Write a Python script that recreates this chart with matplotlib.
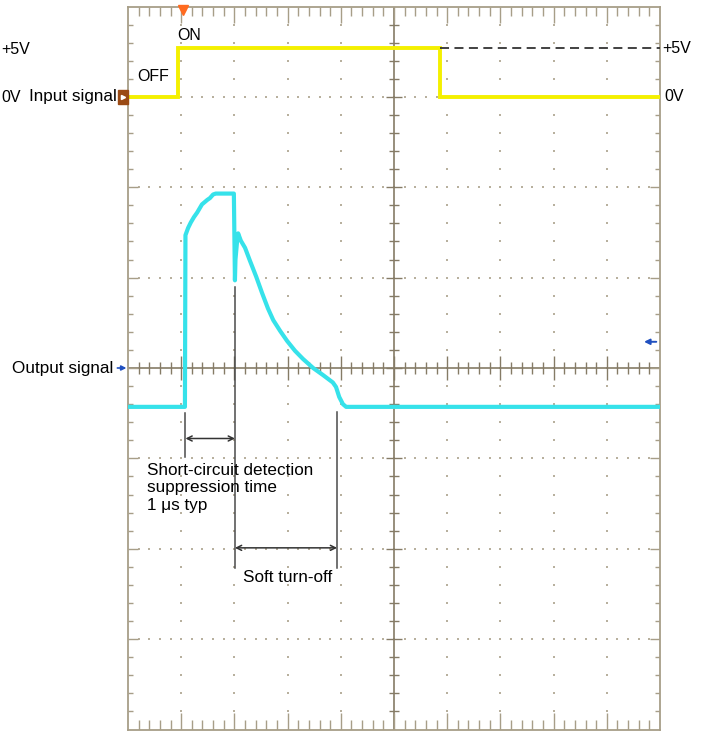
import numpy as np
import matplotlib
matplotlib.use("Agg")
import matplotlib.pyplot as plt
from matplotlib.collections import LineCollection
from matplotlib.patches import Rectangle

# ---------------- data (time in divisions, output in divisions) ----------------
t_input = [0.0, 0.94, 5.86, 10.0]
v_input = [0.0, 5.0, 0.0, 0.0]          # volts

t_output = [0.00, 1.07, 1.08, 1.13, 1.18, 1.24, 1.30, 1.39, 1.49, 1.54, 1.60, 1.65,
            1.99, 2.01, 2.02, 2.05, 2.07, 2.12, 2.20, 2.29, 2.41, 2.52, 2.63, 2.73,
            2.86, 2.99, 3.14, 3.29, 3.48, 3.67, 3.85, 3.91, 3.97, 4.04, 4.10, 10.0]
y_output = [-0.43, -0.43, 1.47, 1.55, 1.61, 1.67, 1.72, 1.81, 1.86, 1.88, 1.92, 1.93,
            1.93, 0.97, 1.20, 1.40, 1.49, 1.41, 1.33, 1.19, 1.01, 0.83, 0.66, 0.53,
            0.41, 0.30, 0.19, 0.10, 0.00, -0.08, -0.16, -0.21, -0.32, -0.40, -0.43,
            -0.43]

t_trigger = 1.03
t_det_start, t_det_end, t_soft_end = 1.08, 2.01, 3.93

# channel settings
IN_OFFSET = 3.0      # div (0 V level of input)
IN_GAIN = 0.108      # div per volt
N_XDIV, N_YDIV = 10, 8

# ---------------- styles ----------------
FRAME = "#a79e88"
CROSS = "#857b66"
DOT = "#b8b09e"
YEL = "#f4f000"
CYAN = "#36e2ea"
PX_X = 10 / 532.0
PX_Y = 8 / 724.0

fig = plt.figure(figsize=(7.01, 7.31), dpi=100)
fig.patch.set_facecolor("white")
ax = fig.add_axes([128 / 701, 1.5 / 731, 532 / 701, 723 / 731])
ax.set_xlim(0, N_XDIV)
ax.set_ylim(-N_YDIV / 2, N_YDIV / 2)
ax.set_xticks([])
ax.set_yticks([])
for s in ax.spines.values():
    s.set_color(FRAME)
    s.set_linewidth(1.3)

# graticule dots
minor_x = np.arange(0.2, N_XDIV, 0.2)
minor_y = np.arange(-N_YDIV / 2 + 0.2, N_YDIV / 2, 0.2)
for yr in [-3, -2, -1, 1, 2, 3]:
    ax.scatter(minor_x, np.full_like(minor_x, yr), s=1.6, color=DOT, marker="s",
               linewidths=0, zorder=1)
for xc in [1, 2, 3, 4, 6, 7, 8, 9]:
    ax.scatter(np.full_like(minor_y, xc), minor_y, s=1.6, color=DOT, marker="s",
               linewidths=0, zorder=1)

# center cross
ax.axvline(5, color=CROSS, lw=1.2, zorder=2)
ax.axhline(0, color=CROSS, lw=1.2, zorder=2)

segs = []
segs_cross = []
for xv in np.arange(0.2, N_XDIV, 0.2):
    major = abs(xv - round(xv)) < 1e-6
    lt = (17 if major else 10) * PX_Y
    segs.append([(xv, 4), (xv, 4 - lt)])
    segs.append([(xv, -4), (xv, -4 + lt)])
    lc = (12 if major else 6) * PX_Y
    segs_cross.append([(xv, -lc), (xv, lc)])
for yv in np.arange(-3.8, 4, 0.2):
    major = abs(yv - round(yv)) < 1e-6
    lt = (10 if major else 5) * PX_X
    segs.append([(0, yv), (lt, yv)])
    segs.append([(10, yv), (10 - lt, yv)])
    lc = (8 if major else 5) * PX_X
    segs_cross.append([(5 - lc, yv), (5 + lc, yv)])
ax.add_collection(LineCollection(segs, colors=FRAME, linewidths=1.0, zorder=2))
ax.add_collection(LineCollection(segs_cross, colors=CROSS, linewidths=1.0, zorder=2))

# traces
y_in = [IN_OFFSET + IN_GAIN * v for v in v_input]
ax.plot(t_input, y_in, drawstyle="steps-post", color=YEL, lw=2.8, zorder=4,
        solid_joinstyle="miter")
ax.plot(t_output, y_output, color=CYAN, lw=3.0, zorder=4, solid_joinstyle="round")

# dashed +5V reference
ax.plot([t_input[2], 10], [IN_OFFSET + IN_GAIN * 5] * 2, color="#333333", lw=1.3,
        ls=(0, (5, 3)), zorder=5)

# annotation lines
ann = "#4a4a4a"
ax.plot([t_det_start] * 2, [-0.50, -0.98], color=ann, lw=1.1, zorder=5)
ax.plot([t_det_end] * 2, [0.90, -2.21], color=ann, lw=1.1, zorder=5)
ax.plot([t_soft_end] * 2, [-0.49, -2.21], color=ann, lw=1.1, zorder=5)
arrow_kw = dict(arrowstyle="<->", color="#333333", lw=1.1, mutation_scale=9,
                shrinkA=0, shrinkB=0)
ax.annotate("", xy=(t_det_end, -0.78), xytext=(t_det_start, -0.78),
            arrowprops=arrow_kw, zorder=6)
ax.annotate("", xy=(t_soft_end, -1.99), xytext=(t_det_end, -1.99),
            arrowprops=arrow_kw, zorder=6)

SANS = ["Liberation Sans", "DejaVu Sans"]
NARROW = ["Liberation Sans Narrow", "Liberation Sans", "DejaVu Sans"]
ax.text(0.36, -1.05, "Short-circuit detection\nsuppression time\n1 \u03bcs typ",
        family=SANS, fontsize=12.3, va="top", ha="left", linespacing=1.2, zorder=6)
ax.text(2.16, -2.32, "Soft turn-off", family=SANS, fontsize=12.3, va="center",
        ha="left", zorder=6)

# channel labels outside the graticule
ax.text(-0.21, IN_OFFSET, "Input signal", family=SANS, fontsize=12.3, va="center",
        ha="right", clip_on=False)
ax.text(-0.27, 0.0, "Output signal", family=SANS, fontsize=12.3, va="center",
        ha="right", clip_on=False)
fig.text(1 / 701, 1 - 50 / 731, "+5V", family=NARROW, fontsize=11.5,
         va="center", ha="left")
fig.text(1 / 701, 1 - 97 / 731, "0V", family=NARROW, fontsize=11.5,
         va="center", ha="left")
ax.text(10.05, IN_OFFSET + IN_GAIN * 5, "+5V", family=NARROW, fontsize=11.5,
        va="center", ha="left", clip_on=False)
ax.text(10.08, IN_OFFSET, "0V", family=NARROW, fontsize=11.5, va="center",
        ha="left", clip_on=False)
ax.text(0.17, IN_OFFSET + 0.22, "OFF", family=NARROW, fontsize=11.5, va="center",
        ha="left", zorder=6)
ax.text(0.93, IN_OFFSET + 0.68, "ON", family=NARROW, fontsize=11.5, va="center",
        ha="left", zorder=6)

# markers
ax.plot([t_trigger], [3.96], marker="v", ms=7, color="#ff6a1f", clip_on=False,
        zorder=7)
ax.add_patch(Rectangle((-0.19, IN_OFFSET - 0.08), 0.19, 0.16, color="#9a4a14",
                       clip_on=False, zorder=7))
ax.plot([-0.09], [IN_OFFSET], marker=">", ms=3, color="white", clip_on=False,
        zorder=8)
ax.annotate("", xy=(-0.03, 0.0), xytext=(-0.2, 0.0), annotation_clip=False,
            arrowprops=dict(arrowstyle="-|>", color="#2050c0", lw=1.2,
                            mutation_scale=7, shrinkA=0, shrinkB=0))
ax.annotate("", xy=(9.70, 0.29), xytext=(9.93, 0.29), annotation_clip=False,
            arrowprops=dict(arrowstyle="-|>", color="#2050c0", lw=1.4,
                            mutation_scale=8, shrinkA=0, shrinkB=0))

fig.savefig("out.png", dpi=100, facecolor="white")
